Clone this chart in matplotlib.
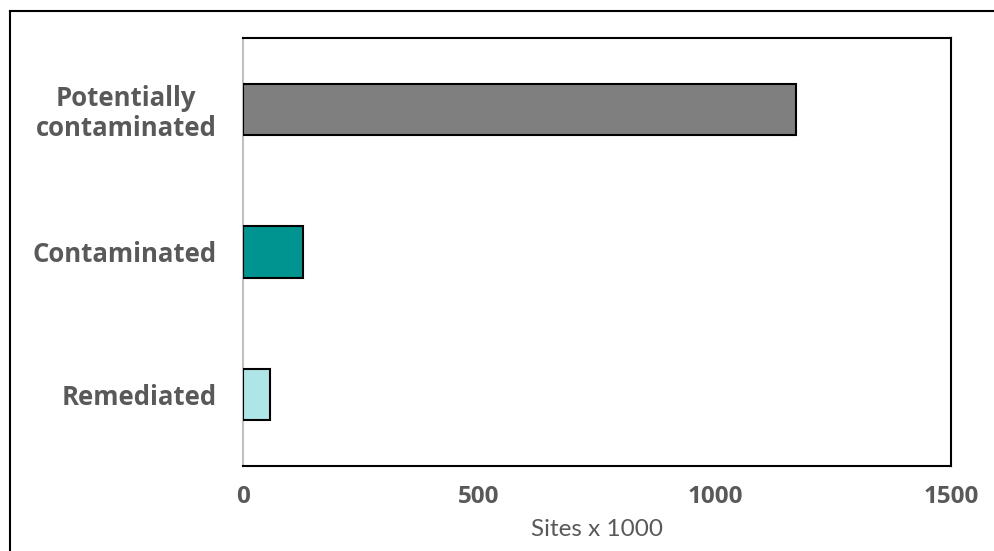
import matplotlib
matplotlib.use("Agg")
import matplotlib.pyplot as plt
from matplotlib.lines import Line2D

# Site counts (thousands)
categories = ["Remediated", "Contaminated", "Potentially\ncontaminated"]
values = [57, 127, 1171]
colors = ["#aee6e8", "#009490", "#7f7f7f"]
xticks = [0, 500, 1000, 1500]

plt.rcParams["font.family"] = ["Lato", "DejaVu Sans"]
label_color = "#595959"
tick_font = ["Open Sans", "DejaVu Sans"]

fig = plt.figure(figsize=(9.94, 5.51), dpi=100)
ax = fig.add_axes([0.2445, 0.1543, 0.7122, 0.7767])

ax.barh(range(len(categories)), values, height=0.36, color=colors,
        edgecolor="black", linewidth=1.5, zorder=3)

ax.set_xlim(0, 1500)
ax.set_ylim(-0.5, 2.5)
ax.set_xticks(xticks)
ax.set_xticklabels([str(t) for t in xticks])
ax.set_yticks(range(len(categories)))
ax.set_yticklabels(categories, linespacing=1.12)

ax.tick_params(axis="both", length=0, labelcolor=label_color)
ax.tick_params(axis="x", pad=14, labelsize=17.5)
ax.tick_params(axis="y", pad=19, labelsize=18.5)
for lab in ax.get_xticklabels() + ax.get_yticklabels():
    lab.set_fontweight("bold")
    lab.set_family(tick_font)
for lab in ax.get_yticklabels():
    lab.set_horizontalalignment("right")
    lab.set_multialignment("center")

ax.set_xlabel("Sites x 1000", fontsize=17.5, color=label_color,
              fontweight="normal", labelpad=7)

for side in ["top", "right", "bottom"]:
    ax.spines[side].set_color("black")
    ax.spines[side].set_linewidth(1.5)
ax.spines["left"].set_color("#c0c0c0")
ax.spines["left"].set_linewidth(1.5)

# Outer frame: top and left edges
fig.add_artist(Line2D([10 / 994, 1.0], [1 - 11 / 551, 1 - 11 / 551],
                      transform=fig.transFigure, color="black", linewidth=1.5))
fig.add_artist(Line2D([10 / 994, 10 / 994], [0.0, 1 - 11 / 551],
                      transform=fig.transFigure, color="black", linewidth=1.5))

fig.savefig("out.png", dpi=100)
